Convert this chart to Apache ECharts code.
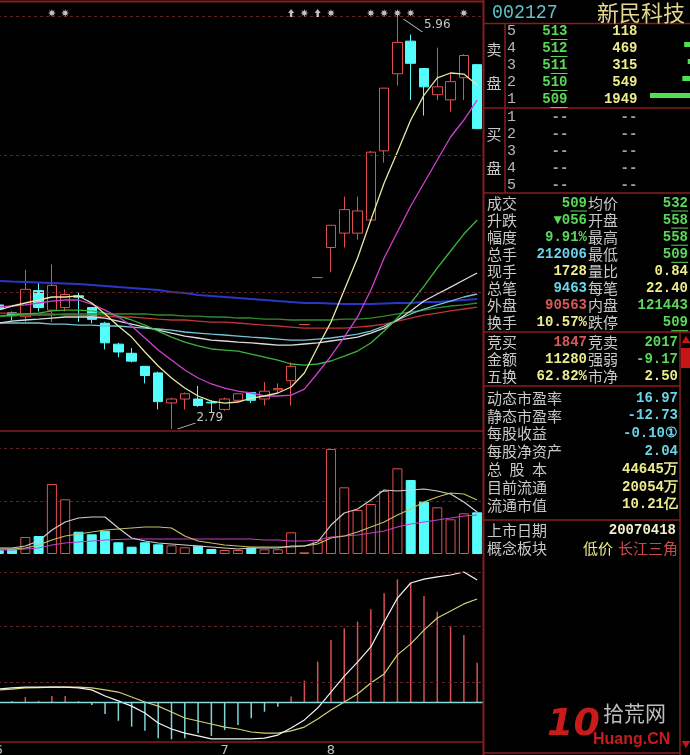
<!DOCTYPE html>
<html lang="zh-CN">
<head>
<meta charset="utf-8">
<title>002127 新民科技</title>
<script src="https://cdn.jsdelivr.net/npm/echarts@6.0.0/dist/echarts.min.js"></script>
<style>
html,body{margin:0;padding:0;background:#000;overflow:hidden;}
#chart{width:690px;height:755px;}
</style>
</head>
<body>
<div id="chart"></div>
<script>
// ---------- daily data ----------
// month of each trading day; the axis prints the month where it changes
const months = [6,6,6,6,6,6,6,6,6,6,6,6,6,6,6,6,6, 7,7,7,7,7,7,7,7, 8,8,8,8,8,8,8,8,8,8,8,8];

// [open, close, low, high]
const candles = [
  [3.74,3.71,3.70,3.75],[3.68,3.66,3.62,3.69],[3.65,3.86,3.61,4.01],[3.85,3.72,3.69,3.91],
  [3.70,3.89,3.61,4.05],[3.72,3.82,3.69,3.86],[3.81,3.80,3.61,3.84],[3.72,3.63,3.60,3.72],
  [3.60,3.45,3.40,3.61],[3.44,3.38,3.34,3.45],[3.37,3.31,3.30,3.41],[3.27,3.20,3.14,3.27],
  [3.22,3.00,2.94,3.23],[2.99,3.02,2.79,3.03],[3.02,3.06,2.94,3.07],[3.02,2.97,2.96,3.12],
  [2.995,2.99,2.92,3.01],[2.94,3.02,2.93,3.03],[3.01,3.06,3.00,3.06],[3.07,3.01,2.99,3.07],
  [3.02,3.08,2.97,3.15],[3.09,3.10,3.07,3.14],[3.16,3.27,2.97,3.30],[3.59,3.59,3.59,3.59],
  [3.95,3.95,3.95,3.95],[4.18,4.35,3.99,4.35],[4.29,4.47,4.18,4.57],[4.29,4.46,4.24,4.57],
  [4.39,4.91,4.38,4.92],[4.92,5.40,4.83,5.40],[5.51,5.75,5.42,5.96],[5.76,5.59,5.31,5.81],
  [5.55,5.41,5.19,5.55],[5.35,5.41,5.31,5.71],[5.31,5.45,5.22,5.52],[5.48,5.65,5.31,5.66],
  [5.58,5.09,5.09,5.58]
];

// moving averages of the close
const ma5  = [3.701,3.732,3.755,3.778,3.801,3.801,3.809,3.755,3.671,3.579,3.494,3.380,3.273,3.181,3.104,3.043,3.004,2.989,2.997,3.027,3.043,3.066,3.112,3.219,3.418,3.609,3.854,4.100,4.390,4.674,4.911,5.156,5.347,5.478,5.516,5.508,5.424];
const ma10 = [3.724,3.732,3.740,3.755,3.770,3.778,3.778,3.747,3.701,3.648,3.579,3.487,3.395,3.318,3.242,3.181,3.135,3.104,3.081,3.066,3.043,3.043,3.050,3.096,3.219,3.349,3.494,3.648,3.854,4.100,4.299,4.498,4.674,4.850,5.026,5.156,5.309];
const ma20 = [3.655,3.663,3.671,3.678,3.694,3.701,3.701,3.694,3.678,3.655,3.625,3.586,3.540,3.494,3.456,3.426,3.403,3.395,3.387,3.364,3.341,3.318,3.288,3.280,3.288,3.311,3.349,3.387,3.449,3.540,3.640,3.755,3.885,4.023,4.153,4.283,4.390];
const ma30 = [3.602,3.617,3.625,3.632,3.640,3.648,3.648,3.648,3.640,3.617,3.594,3.571,3.548,3.525,3.502,3.487,3.471,3.464,3.456,3.449,3.441,3.433,3.433,3.441,3.449,3.464,3.479,3.494,3.525,3.563,3.625,3.694,3.770,3.824,3.877,3.931,3.985];
const ma60 = [3.602,3.602,3.602,3.602,3.594,3.594,3.586,3.586,3.579,3.579,3.571,3.563,3.556,3.548,3.533,3.525,3.517,3.510,3.502,3.494,3.487,3.479,3.471,3.471,3.479,3.487,3.502,3.517,3.540,3.579,3.625,3.671,3.709,3.740,3.770,3.801,3.824];
const ma120 = [3.923,3.919,3.916,3.912,3.908,3.904,3.900,3.893,3.885,3.877,3.870,3.862,3.854,3.839,3.831,3.816,3.809,3.801,3.793,3.786,3.778,3.770,3.763,3.755,3.755,3.751,3.747,3.747,3.747,3.751,3.755,3.755,3.763,3.763,3.770,3.778,3.786];
const ma90 = [3.655,3.655,3.663,3.663,3.663,3.671,3.671,3.671,3.671,3.671,3.671,3.671,3.663,3.663,3.655,3.655,3.648,3.648,3.640,3.640,3.632,3.632,3.625,3.625,3.625,3.625,3.632,3.632,3.640,3.655,3.671,3.686,3.701,3.717,3.732,3.740,3.755];
const ma250 = [3.678,3.678,3.671,3.671,3.671,3.663,3.663,3.655,3.655,3.648,3.648,3.640,3.632,3.625,3.625,3.617,3.609,3.609,3.602,3.594,3.586,3.579,3.571,3.563,3.563,3.563,3.563,3.571,3.579,3.594,3.617,3.640,3.663,3.678,3.694,3.709,3.724];

// volume (lots) and its averages
const volumes = [20300,25400,86400,91500,355900,278100,113400,100200,118500,59500,37100,59500,49300,44200,34100,42200,25400,20300,20300,32000,23900,23900,110300,8600,71200,533800,339100,223700,254200,320300,435700,376200,265900,237400,176400,206900,212006];
const volMa5  = [30500,30500,40700,66100,122000,162700,183000,188100,188100,132200,81300,66100,55900,50800,45800,40700,35600,30500,25400,30500,30500,30500,40700,40700,61000,147400,208400,228800,274500,325400,320300,325400,330500,320300,305000,264400,213500];
const volMa10 = [25400,25400,30500,45800,71200,91500,101700,111800,122000,127100,132200,137300,137300,132200,91500,66100,55900,45800,40700,35600,35600,35600,35600,40700,50800,81300,91500,111800,137300,162700,198300,228800,264400,289800,310100,305000,274500];
const volMa20 = [20300,20300,25400,30500,45800,55900,61000,66100,71200,73700,76300,76300,76300,76300,76300,76300,76300,76300,76300,76300,71200,71200,66100,66100,71200,86400,91500,96600,106800,116900,137300,152500,162700,172900,183000,193200,198300];

// MACD
const dif  = [0.060,0.065,0.069,0.069,0.069,0.069,0.065,0.056,0.028,0.005,-0.019,-0.051,-0.097,-0.125,-0.144,-0.157,-0.171,-0.171,-0.171,-0.171,-0.167,-0.153,-0.120,-0.083,-0.028,0.046,0.120,0.185,0.255,0.370,0.481,0.551,0.569,0.579,0.588,0.602,0.565];
const dea  = [0.056,0.060,0.065,0.067,0.069,0.069,0.069,0.065,0.056,0.046,0.023,0.000,-0.019,-0.046,-0.074,-0.088,-0.102,-0.116,-0.125,-0.139,-0.144,-0.144,-0.134,-0.116,-0.079,-0.037,0.000,0.037,0.088,0.130,0.218,0.269,0.333,0.389,0.421,0.454,0.477];
const macd = [0.005,0.005,0.023,0.006,0.028,0.028,0.005,-0.014,-0.056,-0.087,-0.114,-0.133,-0.168,-0.173,-0.168,-0.145,-0.157,-0.130,-0.106,-0.075,-0.045,-0.022,0.025,0.099,0.187,0.287,0.341,0.372,0.429,0.503,0.568,0.552,0.491,0.418,0.352,0.310,0.182];

// dotted guide levels of the three panes
const priceGuides = [5.945, 4.888, 3.839];
const volumeGuideStep = 269450;
const macdGuides = [0.602, 0.347, 0.088];

// information-mine flags above the candles: [day index, kind]
const infoMarks = [[4,'star'],[5,'star'],[22,'arrow'],[23,'star'],[24,'arrow'],[25,'star'],[28,'star'],[29,'star'],[30,'star'],[31,'star'],[35,'star']];

// ---------- quote panel ----------
const stockCode = '002127';
const stockName = '新民科技';
const askLevels = ['5','4','3','2','1'];
const askPrices = ['513','512','511','510','509'];
const askVolumes = [118,469,315,549,1949];
const bidLevels = ['1','2','3','4','5'];
// [label, value, colour, underline, label, value, colour, underline]
const quoteRows = [
  ['成交','509','g',1,'均价','532','g',1],
  ['升跌','▼056','g',0,'开盘','558','g',1],
  ['幅度','9.91%','g',0,'最高','558','g',1],
  ['总手','212006','c',0,'最低','509','g',1],
  ['现手','1728','y',0,'量比','0.84','y',0],
  ['总笔','9463','c',0,'每笔','22.40','y',0],
  ['外盘','90563','r',0,'内盘','121443','g',0],
  ['换手','10.57%','y',0,'跌停','509','g',1]
];
const auctionRows = [
  ['竞买','1847','r',0,'竞卖','2017','g',0],
  ['金额','11280','y',0,'强弱','-9.17','g',0],
  ['五换','62.82%','y',0,'市净','2.50','y',0]
];
const financeRows = [
  ['动态市盈率','16.97','c'],
  ['静态市盈率','-12.73','c'],
  ['每股收益','-0.10①','c'],
  ['每股净资产','2.04','c'],
  ['总股本','44645万','y'],
  ['目前流通','20054万','y'],
  ['流通市值','10.21亿','y']
];
const listingDate = '20070418';
const conceptTags = [['低价','y'],['长江三角','r']];

// ---------- styling ----------
const UP = '#e05050', DOWN = '#54fcfc';
const FRAME = '#8a1c1c', DOT = '#5e2626';
const PAL = {g:'#5ad85a', y:'#ecec8c', c:'#6cd4e8', r:'#d85858', w:'#f0f0c8', l:'#c8c8c8'};
const CJK = '"Noto Sans CJK SC", sans-serif';
const MONO = '"Liberation Mono", "DejaVu Sans Mono", monospace';

const X_LEFT = -7.9, X_WIDTH = 491.7;
const cats = months.map((m, i) => String(i));

function dirOf(i) {
  const c = candles[i];
  if (c[1] > c[0]) return 1;
  if (c[1] < c[0]) return -1;
  return (i > 0 && c[1] >= candles[i - 1][1]) ? 1 : -1;
}

function starPath(n, r1, r2) {
  let d = '';
  for (let k = 0; k < 2 * n; k++) {
    const r = k % 2 ? r2 : r1;
    const a = Math.PI * k / n - Math.PI / 2;
    d += (k ? 'L' : 'M') + (10 + r * Math.cos(a)).toFixed(2) + ',' + (10 + r * Math.sin(a)).toFixed(2);
  }
  return 'path://' + d + 'Z';
}
const STAR = starPath(8, 10, 4.5);
const ARROW = 'path://M5,0L10,5L7,5L7,10L3,10L3,5L0,5Z';

function xAxisFor(gridIndex, labels) {
  return {
    type: 'category', gridIndex, data: cats, boundaryGap: true,
    axisLine: {show: false}, axisTick: {show: false}, splitLine: {show: false},
    axisLabel: labels ? {
      show: true, interval: 0, margin: 2, color: '#c0c0c0', fontSize: 13,
      fontFamily: '"DejaVu Sans", sans-serif',
      formatter: (v, i) => (i === 0 || months[i] !== months[i - 1]) ? String(months[i]) : ''
    } : {show: false}
  };
}

function maLine(data, color, width) {
  return {
    type: 'line', xAxisIndex: 0, yAxisIndex: 0, data, symbol: 'none', z: 4,
    lineStyle: {color, width: width || 1.2}, silent: true
  };
}

const guideLine = v => ({yAxis: v});
const dotted = {color: DOT, type: [3, 3], width: 1};

// ---------- quote-panel graphics ----------
const g = [];
function text(x, y, s, fill, font, align, extra) {
  g.push(Object.assign({type: 'text', x, y, silent: true, z: 20,
    style: {text: s, fill, font, align: align || 'left', verticalAlign: 'middle'}}, extra || {}));
}
function hline(x1, x2, y, stroke, w) {
  g.push({type: 'line', silent: true, z: 19, shape: {x1, y1: y, x2, y2: y}, style: {stroke, lineWidth: w || 1}});
}
function vline(x, y1, y2, stroke, w) {
  g.push({type: 'line', silent: true, z: 19, shape: {x1: x, y1, x2: x, y2}, style: {stroke, lineWidth: w || 1}});
}
const NUMF = 'bold 14px ' + MONO;
const CH = 8.4;
function value(xr, y, s, col, ul) {
  text(xr, y, s, PAL[col], NUMF, 'right');
  if (ul) hline(xr - 2 * CH, xr, y + 8, PAL[col], 1);
}

// frame of the chart panes
hline(0, 484, 1.5, FRAME, 2);
hline(0, 484, 431, FRAME, 1.5);
hline(0, 484, 742, FRAME, 1.5);
vline(483.5, 0, 755, FRAME, 2);
// quote panel frame
hline(484, 690, 23.5, FRAME, 1.5);
hline(484, 690, 108, FRAME, 1.5);
hline(484, 690, 193, FRAME, 1.5);
hline(484, 690, 332, FRAME, 1.5);
hline(484, 680, 386, FRAME, 1.5);
hline(484, 680, 520, FRAME, 1.5);
hline(484, 680, 753, FRAME, 1.5);
vline(505, 23.5, 193, FRAME, 1.5);
vline(680, 332, 755, FRAME, 1.5);
g.push({type: 'rect', silent: true, z: 19, shape: {x: 681, y: 348, width: 9, height: 20}, style: {fill: '#c41616'}});
text(686, 340, '▲', '#c41616', '9px ' + CJK, 'center');
text(686, 745, '▼', '#c41616', '9px ' + CJK, 'center');

// header
text(492, 12.5, stockCode, '#5cc4cc', '21px ' + MONO, 'left', {scaleX: 0.87});
text(597, 12.5, stockName, '#e6d68c', '22px ' + CJK);

// order book
text(494, 49, '卖', PAL.l, '15px ' + CJK, 'center');
text(494, 83, '盘', PAL.l, '15px ' + CJK, 'center');
text(494, 134, '买', PAL.l, '15px ' + CJK, 'center');
text(494, 168, '盘', PAL.l, '15px ' + CJK, 'center');
askLevels.forEach((lv, k) => {
  const y = 31.5 + k * 17;
  text(507, y, lv, '#b8b8b8', '15px ' + MONO);
  value(567.5, y, askPrices[k], 'g', true);
  text(637.5, y, String(askVolumes[k]), PAL.y, NUMF, 'right');
});
bidLevels.forEach((lv, k) => {
  const y = 117 + k * 17;
  text(507, y, lv, '#b8b8b8', '15px ' + MONO);
  text(560, y, '--', '#a0a0a0', NUMF, 'center');
  text(629, y, '--', '#a0a0a0', NUMF, 'center');
});

// quote rows
function quoteBlock(rows, y0, rightEdge) {
  rows.forEach((r, k) => {
    const y = y0 + k * 17.1;
    text(487, y, r[0], PAL.l, '15px ' + CJK);
    value(587, y, r[1], r[2], r[3]);
    text(588, y, r[4], PAL.l, '15px ' + CJK);
    value(rightEdge, y, r[5], r[6], r[7]);
  });
}
quoteBlock(quoteRows, 203, 688);
quoteBlock(auctionRows, 342, 678);

financeRows.forEach((r, k) => {
  const y = 398 + k * 17.8;
  if (r[0] === '总股本') {
    ['总', '股', '本'].forEach((ch, j) => text(487 + j * 22.5, y, ch, PAL.l, '15px ' + CJK));
  } else {
    text(487, y, r[0], PAL.l, '15px ' + CJK);
  }
  text(678, y, r[1], PAL[r[2]], NUMF, 'right');
});
text(487, 530, '上市日期', PAL.l, '15px ' + CJK);
text(676, 530, listingDate, PAL.w, NUMF, 'right');
text(487, 548, '概念板块', PAL.l, '15px ' + CJK);
text(583, 548, conceptTags[0][0], PAL.y, '15px ' + CJK);
text(618, 548, conceptTags[1][0], '#c84a4a', '15px ' + CJK);

// site mark in the corner
text(547, 725, '10', '#c81c1c', 'italic bold 38px "DejaVu Sans", sans-serif');
text(603, 713, '拾荒网', '#bdbdbd', '21px ' + CJK);
text(593, 740, 'Huang.CN', '#c81c1c', 'bold 16px "Liberation Sans", sans-serif');

// ---------- chart ----------
const chart = echarts.init(document.getElementById('chart'), null, {renderer: 'canvas'});

const volumeData = volumes.map((v, i) => ({
  value: v,
  itemStyle: dirOf(i) > 0 ? {color: '#000', borderColor: UP, borderWidth: 1} : {color: DOWN, borderColor: DOWN, borderWidth: 1}
}));
const macdData = macd.map(v => ({value: v, itemStyle: {color: v >= 0 ? '#d85050' : '#80d4d4'}}));

chart.setOption({
  backgroundColor: '#000',
  animation: false,
  tooltip: {show: false},
  grid: [
    {left: X_LEFT, width: X_WIDTH, top: 3, height: 428, containLabel: false, outerBoundsMode: 'none'},
    {left: X_LEFT, width: X_WIDTH, top: 431, height: 123, containLabel: false, outerBoundsMode: 'none'},
    {left: X_LEFT, width: X_WIDTH, top: 557, height: 185, containLabel: false, outerBoundsMode: 'none'},
    {left: X_LEFT, width: X_WIDTH, top: 6, height: 14, containLabel: false, outerBoundsMode: 'none'},
    {left: 640, width: 55, top: 19, height: 85, containLabel: false, outerBoundsMode: 'none'}
  ],
  xAxis: [
    xAxisFor(0, false), xAxisFor(1, false), xAxisFor(2, true), xAxisFor(3, false),
    {type: 'value', gridIndex: 4, min: 0, max: 2380, inverse: true, show: false}
  ],
  yAxis: [
    {type: 'value', gridIndex: 0, min: 2.775, max: 6.052, show: false},
    {type: 'value', gridIndex: 1, min: 0, max: 625300, interval: volumeGuideStep,
      axisLine: {show: false}, axisTick: {show: false}, axisLabel: {show: false},
      splitLine: {show: true, showMinLine: false, showMaxLine: false, lineStyle: dotted}},
    {type: 'value', gridIndex: 2, min: -0.1852, max: 0.6713, show: false},
    {type: 'value', gridIndex: 3, min: -1, max: 1, show: false},
    {type: 'category', gridIndex: 4, data: askLevels, inverse: true, show: false}
  ],
  series: [
    {
      type: 'candlestick', xAxisIndex: 0, yAxisIndex: 0, data: candles.map(c => [c[0], c[1], c[2], c[3]]),
      barWidth: 10, z: 3,
      itemStyle: {color: '#000', color0: DOWN, borderColor: UP, borderColor0: DOWN, borderColorDoji: UP, borderWidth: 1},
      markLine: {silent: true, symbol: ['none', 'none'], label: {show: false}, lineStyle: dotted,
        data: priceGuides.map(guideLine)},
      markPoint: {
        silent: true,
        data: [
          {type: 'max', valueDim: 'highest', symbol: 'path://M0,0L19,13', symbolSize: [19, 13], symbolOffset: [15.5, 10.5],
            itemStyle: {color: 'none', borderColor: '#b8b8b8', borderWidth: 1}, label: {show: false}},
          {type: 'max', valueDim: 'highest', symbol: 'circle', symbolSize: 1, itemStyle: {color: 'transparent'},
            label: {show: true, position: 'right', distance: 5, offset: [21, 10], color: '#c4c4c4', fontSize: 12,
              fontFamily: '"DejaVu Sans", sans-serif', formatter: p => Number(p.value).toFixed(2)}},
          {type: 'min', valueDim: 'lowest', symbol: 'path://M0,6L18,0', symbolSize: [18, 6], symbolOffset: [15, -3],
            itemStyle: {color: 'none', borderColor: '#b8b8b8', borderWidth: 1}, label: {show: false}},
          {type: 'min', valueDim: 'lowest', symbol: 'circle', symbolSize: 1, itemStyle: {color: 'transparent'},
            label: {show: true, position: 'right', distance: 5, offset: [19.5, -11], color: '#c4c4c4', fontSize: 12,
              fontFamily: '"DejaVu Sans", sans-serif', formatter: p => Number(p.value).toFixed(2)}}
        ]
      }
    },
    maLine(ma250, '#c03434', 1.3),
    maLine(ma90, '#2f8a2f', 1.3),
    maLine(ma120, '#2a36c8', 2),
    maLine(ma60, '#74c4d4', 1.3),
    maLine(ma30, '#dcdcdc', 1.3),
    maLine(ma20, '#3cb43c', 1.3),
    maLine(ma10, '#d040d0', 1.3),
    maLine(ma5, '#e8e8a4', 1.3),
    {
      type: 'bar', xAxisIndex: 1, yAxisIndex: 1, data: volumeData, barWidth: 10, z: 3, silent: true
    },
    {type: 'line', xAxisIndex: 1, yAxisIndex: 1, data: volMa20, symbol: 'none', z: 4, silent: true, lineStyle: {color: '#c440c4', width: 1.2}},
    {type: 'line', xAxisIndex: 1, yAxisIndex: 1, data: volMa10, symbol: 'none', z: 4, silent: true, lineStyle: {color: '#c4c060', width: 1.2}},
    {type: 'line', xAxisIndex: 1, yAxisIndex: 1, data: volMa5, symbol: 'none', z: 4, silent: true, lineStyle: {color: '#cfcfcf', width: 1.2}},
    {
      type: 'bar', xAxisIndex: 2, yAxisIndex: 2, data: macdData, barWidth: 1.5, z: 3, silent: true,
      markLine: {silent: true, symbol: ['none', 'none'], label: {show: false},
        data: macdGuides.map(v => ({yAxis: v, lineStyle: dotted}))
          .concat([{yAxis: 0, lineStyle: {color: '#8adcdc', type: 'solid', width: 1.3}}])}
    },
    {type: 'line', xAxisIndex: 2, yAxisIndex: 2, data: dea, symbol: 'none', z: 4, silent: true, lineStyle: {color: '#d4d078', width: 1.2}},
    {type: 'line', xAxisIndex: 2, yAxisIndex: 2, data: dif, symbol: 'none', z: 4, silent: true, lineStyle: {color: '#f4f4f4', width: 1.2}},
    {
      type: 'scatter', xAxisIndex: 3, yAxisIndex: 3, silent: true, z: 5,
      data: infoMarks.map(m => ({value: [m[0], 0], symbol: m[1] === 'star' ? STAR : ARROW, symbolSize: m[1] === 'star' ? 8 : [6, 8]})),
      itemStyle: {color: '#f2f2f2'}
    },
    {
      type: 'bar', xAxisIndex: 4, yAxisIndex: 4, data: askVolumes, barWidth: 5, silent: true,
      itemStyle: {color: '#4ee04e'}
    }
  ],
  graphic: g
});
</script>
</body>
</html>
